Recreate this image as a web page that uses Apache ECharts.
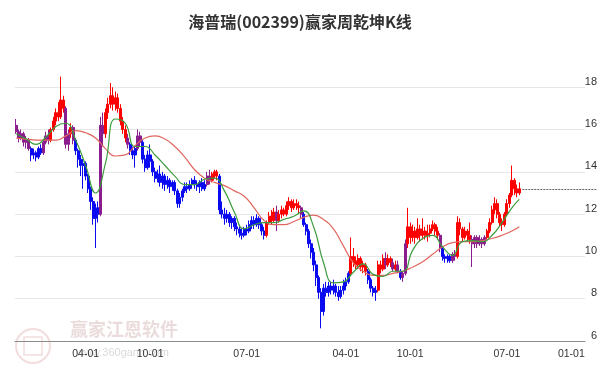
<!DOCTYPE html>
<html><head><meta charset="utf-8">
<script src="https://cdn.jsdelivr.net/npm/echarts@6/dist/echarts.min.js"></script>
<style>html,body{margin:0;padding:0;background:#fff}#c{width:600px;height:371px}</style>
</head><body><div id="c"></div>
<script>
const chartTitle = '海普瑞(002399)赢家周乾坤K线';
const firstWeek = '2021-09-13';
const totalWeeks = 230;
const tickDates = ['2022-04-01', '2022-10-01', '2023-07-01', '2024-04-01', '2024-10-01', '2025-07-01', '2026-01-01'];
const yMin = 6, yMax = 20, yStep = 2;

// weekly candles: [open, close, low, high]
const weekly = [
[16.2,15.9,15.8,16.5],[15.9,15.6,15.4,16.0],[15.6,15.8,15.5,16.0],[15.8,15.4,15.2,15.9],[15.4,15.5,15.1,15.7],
[15.5,15.1,15.0,15.6],[15.1,14.8,14.5,15.2],[14.8,14.9,14.6,15.1],[14.9,14.7,14.5,15.0],[14.7,15.1,14.6,15.2],
[15.1,14.9,14.8,15.3],[14.9,15.4,14.8,15.5],[15.4,15.7,15.3,15.9],[15.7,15.5,15.3,16.0],[15.5,16.0,15.4,16.1],
[16.0,16.4,15.9,16.6],[16.4,16.8,16.2,17.0],[16.8,16.6,16.4,17.3],[16.6,17.4,16.5,18.5],[17.4,17.0,16.8,17.6],
[17.0,15.3,15.1,17.1],[15.3,15.8,15.0,16.0],[15.8,16.1,15.6,16.3],[16.1,15.5,15.3,16.2],[15.5,15.0,14.8,15.6],
[15.0,14.6,14.2,15.1],[14.6,14.3,13.8,14.8],[14.3,14.4,13.2,14.6],[14.4,13.8,13.6,14.5],[13.8,13.2,13.0,13.9],
[13.2,12.6,12.2,13.3],[12.6,11.8,11.5,12.8],[11.8,12.3,10.4,12.5],[12.3,12.0,11.6,12.6],[12.0,16.2,11.9,16.6],
[16.2,15.8,15.2,16.8],[15.8,16.8,15.6,17.0],[16.8,17.2,16.5,17.5],[17.2,17.6,17.0,18.2],[17.6,17.2,16.9,18.0],
[17.2,17.5,16.9,17.8],[17.5,17.0,16.8,17.7],[17.0,16.4,16.2,17.2],[16.4,16.0,15.8,16.6],[16.0,15.6,15.4,16.2],
[15.6,15.3,15.1,15.8],[15.3,15.0,14.8,15.4],[15.0,14.8,14.6,15.2],[14.8,15.1,14.2,15.2],[15.1,15.7,15.0,16.0],
[15.7,15.4,15.2,15.9],[15.4,14.6,14.4,15.5],[14.6,14.2,14.0,14.8],[14.2,14.8,14.1,15.0],[14.8,14.5,14.2,15.3],
[14.5,14.0,13.8,14.6],[14.0,13.7,13.5,14.2],[13.7,13.9,13.5,14.1],[13.9,13.5,13.3,14.3],[13.5,13.8,13.2,14.0],
[13.8,13.4,13.1,13.9],[13.4,13.6,13.2,13.8],[13.6,13.3,13.0,13.7],[13.3,13.5,13.1,13.6],[13.5,13.1,12.9,13.6],
[13.1,12.5,12.3,13.2],[12.5,12.8,12.3,13.0],[12.8,13.1,12.6,13.2],[13.1,13.3,13.0,13.5],[13.3,13.2,13.0,13.5],
[13.2,13.4,13.1,13.6],[13.4,13.6,13.2,13.7],[13.6,13.4,13.2,13.8],[13.4,13.3,13.1,13.6],[13.3,13.5,13.0,13.6],
[13.5,13.2,13.1,13.7],[13.2,13.4,13.1,13.6],[13.4,13.8,13.3,14.0],[13.8,13.6,13.4,14.1],[13.6,13.9,13.5,14.0],
[13.9,14.0,13.7,14.1],[14.0,13.8,13.6,14.1],[13.8,12.2,12.0,13.9],[12.2,12.0,11.8,12.6],[12.0,11.8,11.5,12.3],
[11.8,12.0,11.6,12.2],[12.0,11.6,11.4,12.1],[11.6,11.8,11.3,11.9],[11.8,11.4,11.2,11.9],[11.4,11.3,11.0,11.6],
[11.3,11.1,10.9,11.5],[11.1,11.0,10.8,11.3],[11.0,11.3,10.9,11.4],[11.3,11.2,11.0,11.5],[11.2,11.5,11.1,11.7],
[11.5,11.7,11.3,11.9],[11.7,11.5,11.3,11.9],[11.5,11.8,11.4,12.0],[11.8,11.5,11.3,11.9],[11.5,11.2,11.0,11.6],
[11.2,11.0,10.8,11.4],[11.0,11.6,10.9,11.7],[11.6,11.9,11.5,12.1],[11.9,11.7,11.5,12.2],[11.7,12.1,11.6,12.3],
[12.1,11.7,11.2,12.4],[11.7,12.0,11.6,12.2],[12.0,12.2,11.8,12.4],[12.2,12.0,11.9,12.3],[12.0,12.4,11.9,12.6],
[12.4,12.6,12.2,12.8],[12.6,12.3,12.1,12.7],[12.3,12.5,12.2,12.7],[12.5,12.4,12.2,12.7],[12.4,12.3,12.0,12.6],
[12.3,12.0,11.8,12.4],[12.0,11.5,11.4,12.1],[11.5,11.2,11.0,11.6],[11.2,10.6,10.4,11.3],[10.6,10.2,9.9,10.8],
[10.2,9.6,9.3,10.4],[9.6,9.0,8.6,9.8],[9.0,8.3,8.0,9.1],[8.3,7.4,6.6,8.5],[7.4,8.5,7.2,8.7],
[8.5,8.3,8.1,8.8],[8.3,8.6,8.1,8.8],[8.6,8.4,8.2,8.8],[8.4,8.6,8.2,8.9],[8.6,8.3,8.1,8.7],
[8.3,8.1,7.9,8.6],[8.1,8.4,8.0,8.6],[8.4,8.6,8.2,8.9],[8.6,8.8,8.4,9.0],[8.8,9.2,8.7,9.3],
[9.2,10.0,9.1,10.9],[10.0,9.8,9.5,10.4],[9.8,9.6,9.4,10.0],[9.6,9.9,9.4,10.1],[9.9,9.5,9.3,10.0],
[9.5,9.6,9.2,9.8],[9.6,9.3,9.1,9.7],[9.3,8.9,8.7,9.4],[8.9,8.5,8.3,9.0],[8.5,8.3,8.1,8.6],
[8.3,8.4,7.9,8.6],[8.4,9.6,8.3,9.8],[9.6,9.4,9.2,9.8],[9.4,9.9,9.3,10.1],[9.9,9.6,9.4,10.2],
[9.6,9.9,9.5,10.1],[9.9,9.7,9.5,10.0],[9.7,9.4,9.3,9.9],[9.4,9.6,9.3,9.8],[9.6,9.3,9.2,9.8],
[9.3,9.0,8.9,9.4],[9.0,9.2,8.8,9.3],[9.2,10.6,9.1,10.8],[10.6,11.4,10.4,12.3],[11.4,10.9,10.6,11.6],
[10.9,11.2,10.7,11.5],[11.2,10.9,10.6,11.4],[10.9,11.3,10.8,11.8],[11.3,11.0,10.7,11.5],[11.0,11.2,10.8,11.8],
[11.2,11.0,10.8,11.4],[11.0,11.1,10.7,11.5],[11.1,11.3,10.9,11.5],[11.3,11.5,11.2,11.7],[11.5,11.2,11.0,11.6],
[11.2,11.0,10.8,11.4],[11.0,10.4,10.2,11.1],[10.4,10.0,9.8,10.5],[10.0,9.9,9.7,10.1],[9.9,10.0,9.7,10.1],
[10.0,9.8,9.7,10.1],[9.8,10.1,9.7,10.2],[10.1,10.0,9.8,10.3],[10.0,11.6,9.9,11.9],[11.6,11.3,11.0,11.8],
[11.3,10.9,10.7,11.4],[10.9,11.2,10.8,11.4],[11.2,11.0,10.7,11.3],[11.0,10.8,10.6,11.6],[10.8,10.6,9.5,11.0],
[10.6,10.9,10.4,11.0],[10.9,10.6,10.4,11.0],[10.6,10.8,10.5,11.0],[10.8,10.6,10.4,10.9],[10.6,10.9,10.5,11.0],
[10.9,11.2,10.8,11.3],[11.2,11.6,11.1,11.8],[11.6,12.2,11.5,12.4],[12.2,12.5,12.0,12.8],[12.5,12.0,11.8,12.7],
[12.0,11.6,11.4,12.1],[11.6,11.5,11.2,11.8],[11.5,12.0,11.4,12.1],[12.0,12.5,11.9,12.7],[12.5,12.9,12.3,13.0],
[12.9,13.6,12.8,14.3],[13.6,13.2,12.9,13.7],[13.2,13.0,12.8,13.4],[13.0,13.2,12.9,13.5]
];

// signal state per week: r = strong, b = weak, p = transition
const signal =
  'ppppppbbbb' + 'bppprrrrrr' + 'pprpbbbbbb' + 'bbbbpprrrr' + 'rrrrrpbbbp' +
  'pbbbbbbbbb' + 'bbbbbbbbbb' + 'bbbbbbbppr' + 'rrbbbbbbbb' + 'bbbbbbbbbb' +
  'brrrrprrrr' + 'rrrrrpbbbb' + 'bbbbbbbbbb' + 'bbbbbrrrrr' + 'rrbbbbrrrp' +
  'rrprpbpprr' + 'rrrrrrrrrr' + 'rpbbbbpprr' + 'rrrrpppppp' + 'rrrrrrrrrr' + 'rrrr';

// moving-average lines read every 4 weeks (last point = final week)
const maWeeks = [0,4,8,12,16,20,24,28,32,36,40,44,48,52,56,60,64,68,72,76,80,84,88,92,96,100,
  104,108,112,116,120,124,128,132,136,140,144,148,152,156,160,164,168,172,176,180,184,188,192,196,200,203];
const maFast = [15.8,15.55,15.3,15.65,16.15,16.3,15.5,14.3,13.0,14.4,16.5,16.3,15.2,15.2,14.8,14.3,13.8,13.4,13.4,13.65,
  13.7,13.1,12.1,11.3,11.5,11.6,11.6,11.75,11.9,12.15,11.4,9.7,8.75,8.8,9.25,9.65,9.15,9.05,9.3,9.3,
  10.3,10.85,11.0,10.45,10.05,10.7,10.75,10.7,11.0,11.6,12.3,12.7];
const maSlow = [15.6,15.55,15.5,15.5,15.5,15.7,15.95,15.85,15.6,15.1,14.75,14.8,15.25,15.6,15.7,15.55,15.2,14.7,14.1,13.7,
  13.5,13.35,13.1,12.85,12.3,11.7,11.5,11.5,11.65,11.85,11.95,11.75,11.3,10.5,9.7,9.3,9.1,9.1,9.2,9.3,
  9.5,9.75,10.1,10.45,10.65,10.7,10.7,10.75,10.85,11.0,11.2,11.4];

const COLORS = { r: '#ff0000', b: '#0a0af0', p: '#8a1c8e' };

// categories (week starts)
const DAY = 86400000;
const t0 = Date.parse(firstWeek + 'T00:00:00Z');
const categories = [];
for (let i = 0; i < totalWeeks; i++) {
  categories.push(new Date(t0 + i * 7 * DAY).toISOString().slice(0, 10));
}
const labelAt = {};
tickDates.forEach(d => {
  const idx = Math.floor((Date.parse(d + 'T00:00:00Z') - t0) / (7 * DAY));
  labelAt[idx] = d.slice(5);
});
const showTick = (i) => labelAt[i] !== undefined;

const candleData = weekly.map((v, i) => {
  const c = COLORS[signal[i]] || COLORS.r;
  return { value: v, itemStyle: { color: c, color0: c, borderColor: c, borderColor0: c, borderColorDoji: c } };
});
const fastLine = maWeeks.map((w, k) => [w, maFast[k]]);
const slowLine = maWeeks.map((w, k) => [w, maSlow[k]]);

const chart = echarts.init(document.getElementById('c'), null, { renderer: 'canvas' });
chart.setOption({
  animation: false,
  backgroundColor: '#fff',
  textStyle: { fontFamily: 'Liberation Sans, Arial, sans-serif' },
  title: {
    text: chartTitle, left: 'center', top: 9,
    textStyle: { fontSize: 16, fontWeight: 'bold', color: '#333', fontFamily: 'Noto Sans CJK SC' }
  },
  grid: { left: 15, right: 14, top: 45, bottom: 30 },
  xAxis: {
    type: 'category', data: categories, boundaryGap: true,
    axisLine: { lineStyle: { color: '#8c8c8c', width: 1 } },
    axisTick: { interval: showTick, alignWithLabel: true, length: 5, lineStyle: { color: '#8c8c8c' } },
    axisLabel: {
      interval: showTick, formatter: (v, i) => labelAt[i] || '',
      color: '#333', fontSize: 10.5, margin: 8
    },
    splitLine: { show: false }
  },
  yAxis: {
    type: 'value', position: 'right', min: yMin, max: yMax, interval: yStep, scale: false,
    axisLine: { show: false }, axisTick: { show: false },
    axisLabel: { color: '#333', fontSize: 11, align: 'right', margin: 12, verticalAlign: 'bottom', showMaxLabel: false },
    splitLine: { show: true, showMaxLine: false, lineStyle: { color: '#e6e6e6', width: 1 } }
  },
  series: [
    { type: 'candlestick', data: candleData, barWidth: '100%', z: 3 },
    { type: 'line', data: slowLine, smooth: 0.5, showSymbol: false, symbol: 'none',
      lineStyle: { color: '#e0675f', width: 1.2 }, z: 4 },
    { type: 'line', data: fastLine, smooth: 0.5, showSymbol: false, symbol: 'none',
      lineStyle: { color: '#3c9b3c', width: 1.2 }, z: 5 }
  ]
});

// last-close dashed guide, placed through the chart's own scales
const lastIdx = weekly.length - 1;
const lastClose = weekly[lastIdx][1];
const p = chart.convertToPixel({ xAxisIndex: 0, yAxisIndex: 0 }, [lastIdx, lastClose]);
chart.setOption({
  graphic: [
    { type: 'line', shape: { x1: p[0] + 3, y1: Math.round(p[1]) + 0.5, x2: 597, y2: Math.round(p[1]) + 0.5 },
      style: { stroke: '#666', lineWidth: 1, lineDash: [2, 1] }, z: 10 },
    { type: 'circle', shape: { cx: 33, cy: 346, r: 17 }, style: { fill: 'none', stroke: 'rgba(205,120,120,0.25)', lineWidth: 2 }, z: 0 },
    { type: 'rect', shape: { x: 24, y: 337, width: 18, height: 18 }, style: { fill: 'none', stroke: 'rgba(205,120,120,0.25)', lineWidth: 1.5 }, z: 0 },
    { type: 'text', left: 70, top: 320, style: { text: '赢家江恩软件', fill: 'rgba(190,140,140,0.3)', font: 'bold 18px "Noto Sans CJK SC"' }, z: 0 },
    { type: 'text', left: 76, top: 347, style: { text: 'www.360gann.com', fill: 'rgba(130,130,130,0.3)', font: '11px "Liberation Sans"' }, z: 0 }
  ]
});
</script>
</body></html>
